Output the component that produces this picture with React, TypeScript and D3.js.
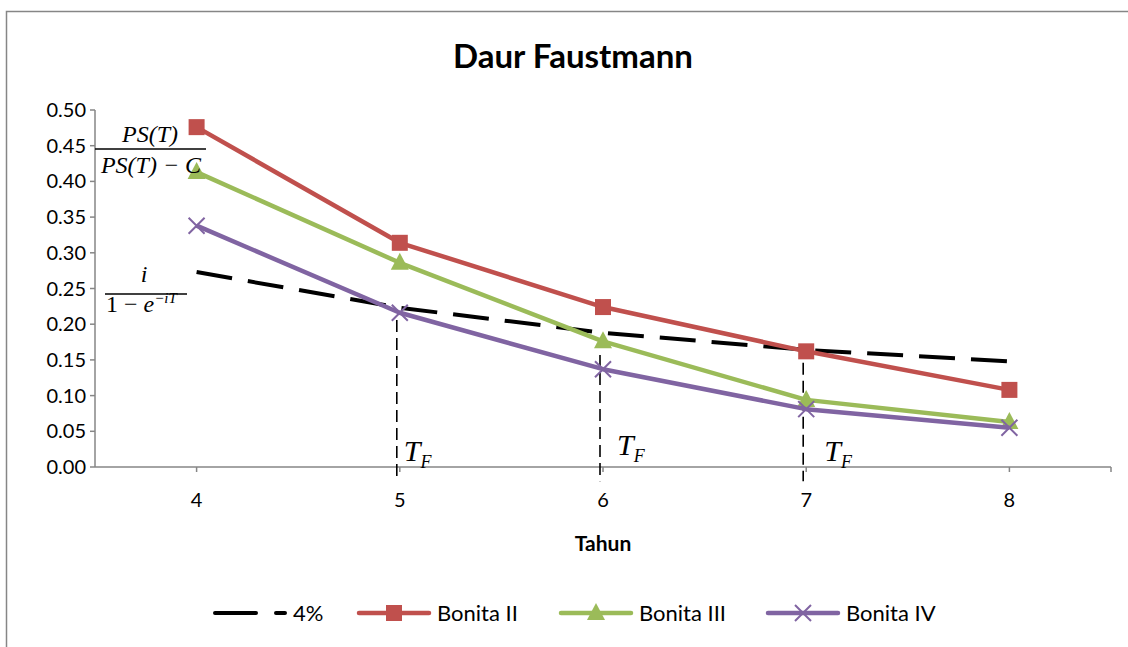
import React from 'react';
import * as d3 from 'd3';

// data
const years = [4, 5, 6, 7, 8];
const rate4 = [0.273, 0.223, 0.188, 0.164, 0.148];
const bonitaII = [0.476, 0.314, 0.224, 0.162, 0.108];
const bonitaIII = [0.413, 0.286, 0.176, 0.094, 0.063];
const bonitaIV = [0.338, 0.216, 0.137, 0.081, 0.055];
const yTicks = [0, 0.05, 0.1, 0.15, 0.2, 0.25, 0.3, 0.35, 0.4, 0.45, 0.5];
// T_F annotations: year, top value of the dashed drop line
const tfYears = [5, 6, 7];
const tfTop = [0.206, 0.157, 0.146];

const W = 1128;
const H = 647;
const FONT = 'Lato, "Open Sans", sans-serif';
const MATH = '"Liberation Serif", "DejaVu Serif", serif';
const AXIS = '#868686';

const x = d3.scaleBand<number>().domain(years).range([95, 1111]);
const cx = (v: number) => (x(v) as number) + x.bandwidth() / 2;
const y = d3.scaleLinear().domain([0, 0.5]).range([467, 110]);

const line = d3.line<number>().x((_, i) => cx(years[i])).y(d => y(d));

type Marker = 'square' | 'triangle' | 'x' | 'none';

const series: { name: string; values: number[]; color: string; marker: Marker; dash?: string }[] = [
  { name: '4%', values: rate4, color: '#000000', marker: 'none', dash: '36,16' },
  { name: 'Bonita II', values: bonitaII, color: '#C0504D', marker: 'square' },
  { name: 'Bonita III', values: bonitaIII, color: '#9BBB59', marker: 'triangle' },
  { name: 'Bonita IV', values: bonitaIV, color: '#8064A2', marker: 'x' },
];

const legendX = [215, 359, 561, 768];

function drawMarker(m: Marker, color: string, px: number, py: number, key: string) {
  if (m === 'square') return <rect key={key} x={px - 8} y={py - 8} width={16} height={16} fill={color} />;
  if (m === 'triangle')
    return <path key={key} d={`M${px},${py - 10} L${px + 9},${py + 7} L${px - 9},${py + 7} Z`} fill={color} />;
  if (m === 'x')
    return (
      <path key={key} d={`M${px - 8},${py - 8} L${px + 8},${py + 8} M${px + 8},${py - 8} L${px - 8},${py + 8}`}
        stroke={color} strokeWidth={2} fill="none" />
    );
  return null;
}

export default function App() {
  const tickLen = 5;
  return (
    <svg width={W} height={H} style={{ position: 'absolute', left: 0, top: 0, background: '#fff' }}>
      <rect x={6.5} y={11.5} width={W + 10} height={H + 10} fill="#fff" stroke={AXIS} strokeWidth={1.5} />

      <text x={573} y={68} textAnchor="middle" fontFamily={FONT} fontWeight={700} fontSize={33} fill="#000">
        Daur Faustmann
      </text>

      {/* y axis */}
      <line x1={95} x2={95} y1={y(0.5)} y2={y(0)} stroke={AXIS} strokeWidth={1.5} />
      {yTicks.map(t => (
        <g key={t}>
          <line x1={95 - tickLen} x2={95} y1={y(t)} y2={y(t)} stroke={AXIS} strokeWidth={1.5} />
          <text x={86} y={y(t) + 7} textAnchor="end" fontFamily={FONT} fontSize={20} fill="#000">
            {t.toFixed(2)}
          </text>
        </g>
      ))}

      {/* x axis */}
      <line x1={95} x2={1111} y1={y(0)} y2={y(0)} stroke={AXIS} strokeWidth={1.5} />
      {years.map(v => (
        <g key={v}>
          <line x1={cx(v)} x2={cx(v)} y1={y(0)} y2={y(0) + tickLen} stroke={AXIS} strokeWidth={1.5} />
          <text x={cx(v)} y={507} textAnchor="middle" fontFamily={FONT} fontSize={20} fill="#000">{v}</text>
        </g>
      ))}
      <line x1={1111} x2={1111} y1={y(0)} y2={y(0) + tickLen} stroke={AXIS} strokeWidth={1.5} />
      <text x={603} y={551} textAnchor="middle" fontFamily={FONT} fontWeight={700} fontSize={21} fill="#000">Tahun</text>

      {/* T_F drop lines */}
      {tfYears.map((v, i) => (
        <g key={v}>
          <line x1={cx(v) - 3} x2={cx(v) - 3} y1={y(tfTop[i])} y2={y(-0.02)} stroke="#000" strokeWidth={1.6} strokeDasharray="12,6" />
          <text x={cx(v) + 4 + (i === 1 ? 10 : i === 2 ? 14 : 0)} y={i === 1 ? 455 : 461} fontFamily={MATH} fontStyle="italic" fontSize={30} fill="#000">
            T<tspan dy={7} fontSize={18}>F</tspan>
          </text>
        </g>
      ))}

      {/* series */}
      {series.map(s => (
        <g key={s.name}>
          <path d={line(s.values) as string} fill="none" stroke={s.color} strokeWidth={s.marker === 'none' ? 4 : 4.5}
            strokeDasharray={s.dash} strokeLinejoin="round" />
          {s.values.map((v, i) => drawMarker(s.marker, s.color, cx(years[i]), y(v), `${s.name}-${i}`))}
        </g>
      ))}

      {/* formula labels */}
      <g fontFamily={MATH} fontStyle="italic" fontSize={24} fill="#000">
        <text x={150} y={142} textAnchor="middle">PS(T)</text>
        <line x1={95} x2={206} y1={149} y2={149} stroke="#000" strokeWidth={1.5} />
        <text x={151} y={173} textAnchor="middle">PS(T) − C</text>
        <text x={144} y={282} textAnchor="middle">i</text>
        <line x1={105} x2={187} y1={294} y2={294} stroke="#000" strokeWidth={1.5} />
        <text x={106} y={312}>
          <tspan fontStyle="normal">1 − </tspan>e<tspan dy={-9} fontSize={15}>−iT</tspan>
        </text>
      </g>

      {/* legend */}
      {series.map((s, i) => {
        const lx = legendX[i];
        const ly = 613;
        const len = 70;
        return (
          <g key={s.name}>
            <line x1={lx} x2={lx + len} y1={ly} y2={ly} stroke={s.color} strokeWidth={s.marker === 'none' ? 4 : 4.5}
              strokeDasharray={s.marker === 'none' ? '41,20' : undefined} strokeLinecap="round" />
            {drawMarker(s.marker, s.color, lx + len / 2, ly, `leg-${i}`)}
            <text x={lx + len + 8} y={ly + 8} fontFamily={FONT} fontSize={22} fill="#000">{s.name}</text>
          </g>
        );
      })}
    </svg>
  );
}
